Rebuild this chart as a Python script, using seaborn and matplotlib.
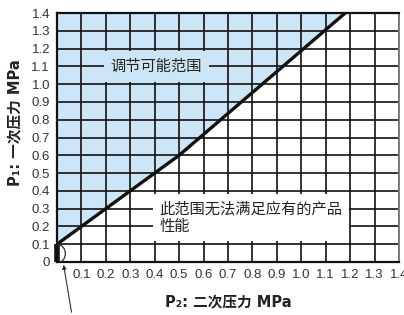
import matplotlib
matplotlib.use("Agg")
import matplotlib.pyplot as plt
import seaborn as sns
import numpy as np
import pandas as pd
from matplotlib.patches import Arc

# ---- data ----
boundary_p2 = [0.0, 0.5, 1.18]
boundary_p1 = [0.1, 0.6, 1.4]
ticks = [0.0, 0.1, 0.2, 0.3, 0.4, 0.5, 0.6, 0.7, 0.8, 0.9, 1.0, 1.1, 1.2, 1.3, 1.4]
x_tick_labels = ["", "0.1", "0.2", "0.3", "0.4", "0.5", "0.6", "0.7", "0.8", "0.9", "1.0", "1.1", "1.2", "1.3", "1.4"]
y_tick_labels = ["0", "0.1", "0.2", "0.3", "0.4", "0.5", "0.6", "0.7", "0.8", "0.9", "1.0", "1.1", "1.2", "1.3", "1.4"]
x_label = "P₂: 二次压力 MPa"
y_label = "P₁: 一次压力 MPa"
region_ok = "调节可能范围"
region_bad = "此范围无法满足应有的产品\n性能"

sns.set_theme(style="white")
plt.rcParams['font.family'] = ['Liberation Sans', 'Noto Sans CJK SC', 'DejaVu Sans']

BLUE = "#cde6f7"
CJK = ['Noto Sans CJK SC', 'DejaVu Sans']
LAB = ['DejaVu Sans', 'Noto Sans CJK SC']

fig = plt.figure(figsize=(4.04, 3.15), dpi=100)
ax = fig.add_axes([57/404, 1-262/315, 342/404, 249/315])

df = pd.DataFrame({"p2": boundary_p2, "p1": boundary_p1})
ax.fill_between(df["p2"], df["p1"], 1.4, color=BLUE, linewidth=0, zorder=1)
sns.lineplot(data=df, x="p2", y="p1", ax=ax, color="#111111", linewidth=2.4, zorder=3)

ax.set_xlim(0, 1.4)
ax.set_ylim(0, 1.4)
ax.set_xticks(ticks)
ax.set_yticks(ticks)
ax.set_xticklabels(x_tick_labels)
ax.set_yticklabels(y_tick_labels)
ax.tick_params(length=0, labelsize=9.5, colors="#333333", pad=5)
ax.set_axisbelow('line')
ax.grid(True, color="#111111", linewidth=1.2)
for side in ["left", "bottom", "top"]:
    ax.spines[side].set_color("#111111")
    ax.spines[side].set_linewidth(1.6)
ax.spines["right"].set_color("#777777")
ax.spines["right"].set_linewidth(1.3)

ax.set_xlabel(x_label, family=LAB, fontweight="bold", fontsize=10.5, color="#222222", labelpad=10)
ax.set_ylabel(y_label, family=LAB, fontweight="bold", fontsize=10.5, color="#222222")
ax.yaxis.set_label_coords(-0.1, 0.56)

ax.text(0.22, 1.1, region_ok, family=CJK, fontsize=11, color="#222222", va="center", ha="left",
        zorder=4, bbox=dict(boxstyle="square,pad=0.45", facecolor=BLUE, edgecolor="none"))
ax.text(0.42, 0.25, region_bad, family=CJK, fontsize=11, color="#222222", va="center", ha="left",
        linespacing=1.0, zorder=4,
        bbox=dict(boxstyle="square,pad=0.45", facecolor="white", edgecolor="none"))

# origin marker
ax.plot([0, 0], [0, 0.1], color="#111111", linewidth=4, solid_capstyle="butt", zorder=5, clip_on=False)
ax.add_patch(Arc((0.004, 0.047), 0.06, 0.1, theta1=-90, theta2=90, color="#333333", linewidth=0.9, zorder=5))
ax.annotate("", xy=(0.025, 0.0), xycoords="data", xytext=(72/404, 0.0), textcoords="figure fraction",
            arrowprops=dict(arrowstyle="-|>", color="#333333", linewidth=0.8, mutation_scale=6),
            annotation_clip=False)

fig.savefig("out.png", dpi=100)
